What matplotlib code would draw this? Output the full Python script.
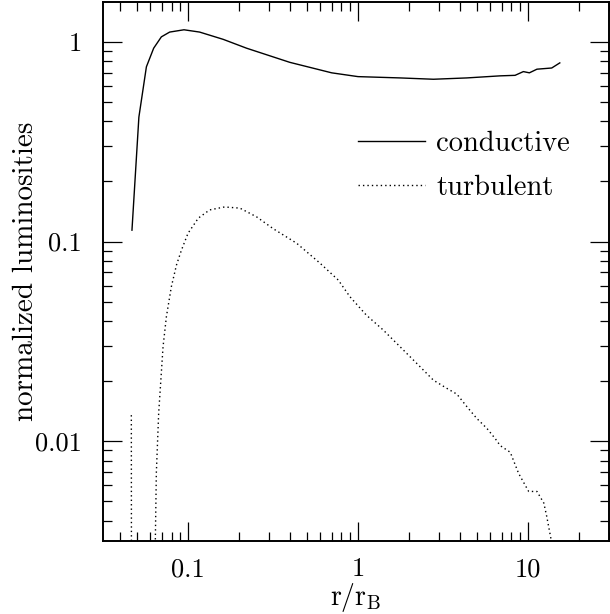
"""Conductive and turbulent luminosity profiles versus r/r_B."""

import numpy as np
import matplotlib
matplotlib.use("Agg")
import matplotlib.pyplot as plt
from matplotlib.ticker import FuncFormatter, LogLocator, NullFormatter

plt.rcParams["font.family"] = ["cmr10", "DejaVu Serif"]
plt.rcParams["mathtext.fontset"] = "cm"
plt.rcParams["axes.formatter.use_mathtext"] = True

# conductive luminosity (solid)
cond_r = [0.0468, 0.0514, 0.0569, 0.0628, 0.0697, 0.078, 0.0947, 0.117,
          0.161, 0.221, 0.397, 0.7, 1.0, 1.77, 2.78, 4.37, 6.87, 8.4,
          9.4, 10.2, 11.3, 13.8, 15.4]
cond_L = [0.114, 0.42, 0.75, 0.93, 1.06, 1.12, 1.15, 1.12,
          1.03, 0.93, 0.79, 0.70, 0.67, 0.66, 0.65, 0.66, 0.676, 0.68,
          0.71, 0.70, 0.73, 0.74, 0.785]

# turbulent luminosity (dotted); dips below the plotted range near r ~ 0.05
turb_r = [0.0464, 0.0466, 0.0605, 0.0651, 0.0672, 0.0688, 0.0713, 0.0746,
          0.0798, 0.0855, 0.0915, 0.1, 0.115, 0.134, 0.164, 0.202, 0.253,
          0.317, 0.436, 0.597, 0.766, 0.897, 1.12, 1.41, 1.77, 2.22, 2.78,
          3.33, 3.82, 4.37, 5.0, 5.73, 6.42, 6.87, 7.87, 8.81, 10.1, 11.3,
          12.4, 12.9, 13.7, 14.2]
turb_L = [0.0135, 0.0001, 0.0001, 0.0069, 0.0138, 0.0187, 0.0297, 0.042,
          0.0594, 0.0762, 0.0906, 0.110, 0.131, 0.144, 0.149, 0.147, 0.133,
          0.116, 0.098, 0.078, 0.0641, 0.0529, 0.0428, 0.036, 0.0297, 0.0245,
          0.0202, 0.0184, 0.0172, 0.0149, 0.0130, 0.0116, 0.0103, 0.0095,
          0.0088, 0.0069, 0.0056, 0.0056, 0.0049, 0.0042, 0.0032, 0.0025]

fig = plt.figure(figsize=(6.1, 6.14), dpi=100)
ax = fig.add_axes([0.1689, 0.1189, 0.8295, 0.8779])

ax.plot(cond_r, cond_L, color="black", lw=1.0, label="conductive")
ax.plot(turb_r, turb_L, color="black", lw=1.0, linestyle=(0, (1, 2.2)),
        label="turbulent")

ax.set_xscale("log")
ax.set_yscale("log")
ax.set_xlim(10 ** -1.5, 30)
ax.set_ylim(10 ** -2.5, 1.585)

fmt = FuncFormatter(lambda v, pos: f"{v:g}")
ax.xaxis.set_major_locator(LogLocator(base=10, subs=(1.0,)))
ax.yaxis.set_major_locator(LogLocator(base=10, subs=(1.0,)))
ax.xaxis.set_minor_locator(LogLocator(base=10, subs=np.arange(2, 10)))
ax.yaxis.set_minor_locator(LogLocator(base=10, subs=np.arange(2, 10)))
ax.xaxis.set_major_formatter(fmt)
ax.yaxis.set_major_formatter(fmt)
ax.xaxis.set_minor_formatter(NullFormatter())
ax.yaxis.set_minor_formatter(NullFormatter())

ax.tick_params(which="both", direction="in", top=True, right=True,
               labelsize=19, width=0.9)
ax.tick_params(which="major", length=13.5)
ax.tick_params(which="minor", length=6.5)
ax.tick_params(axis="x", pad=12)
ax.tick_params(axis="y", pad=15)
for s in ax.spines.values():
    s.set_linewidth(1.4)

ax.set_xlabel(r"r/r$_\mathrm{B}$", fontsize=20, labelpad=0)
ax.set_ylabel("normalized luminosities", fontsize=21, labelpad=-3)

ax.legend(loc="upper left", bbox_to_anchor=(0.504, 0.762), frameon=False,
          fontsize=20.5, handlelength=2.35, handletextpad=0.4,
          labelspacing=0.62, borderpad=0, borderaxespad=0)

fig.savefig("out.png", dpi=100)
